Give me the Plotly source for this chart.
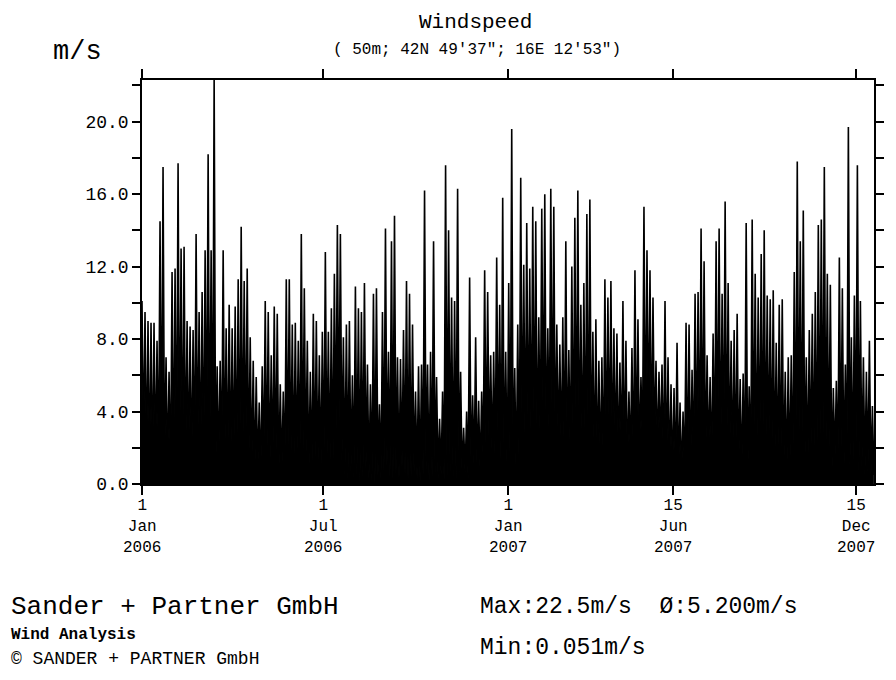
import plotly.graph_objects as go
import pandas as pd

# ---- data (3-day samples: peak and trough) ----
start_date = "2006-01-01"
sample_step_days = 3

peaks_p1 = [10.1, 9.5, 9.0, 8.9, 8.9, 7.9, 14.5, 17.5, 7.0, 6.2,
            11.7, 11.9, 17.7, 13.0, 13.1, 9.0, 8.7, 8.5, 13.8, 9.5,
            10.6, 12.9, 18.2, 12.9, 22.5, 6.5, 6.8, 12.9, 8.6, 9.9,
            8.6, 9.8, 11.3, 14.2, 11.2, 11.9, 8.1, 6.8, 5.9, 4.5,
            6.5, 10.1, 9.5, 7.1, 9.8, 9.4, 5.5, 5.1, 11.3]
peaks_p2 = [11.3, 8.8, 8.9, 7.9, 13.8, 10.8, 7.9, 6.2, 9.4, 9.0,
            7.1, 8.4, 12.8, 8.4, 9.7, 11.6, 14.3, 13.8, 8.1, 8.8,
            9.0, 6.0, 10.9, 9.7, 9.5, 11.1, 6.6, 5.5, 10.5, 10.8,
            4.4, 9.5, 14.1, 7.3, 13.4, 14.8, 7.0, 6.9, 8.5, 11.2,
            10.5, 8.8, 5.1, 6.5, 6.6, 16.2, 6.6, 7.3, 13.4]
peaks_p3 = [5.9, 3.6, 5.1, 17.6, 14.0, 10.3, 10.1, 16.3, 6.2, 3.1,
            4.0, 11.4, 4.9, 8.1, 4.6, 5.1, 11.8, 10.6, 7.1, 7.3,
            12.5, 9.9, 15.8, 7.3, 11.1, 19.6, 6.4, 8.8, 16.9, 12.1,
            14.4, 11.9, 15.3, 14.5, 9.2, 15.2, 16.0, 8.6, 16.3, 15.3,
            8.8, 7.7, 9.2, 13.4, 7.4, 12.0, 14.7, 16.2, 9.9]
peaks_p4 = [11.1, 14.9, 15.7, 8.4, 9.1, 6.8, 7.0, 11.3, 10.3, 11.2,
            8.6, 8.3, 6.7, 10.1, 7.9, 5.1, 7.5, 11.8, 9.1, 5.9,
            15.3, 12.9, 11.8, 10.3, 6.8, 6.2, 6.6, 10.1, 7.0, 5.5,
            5.3, 7.8, 4.5, 4.0, 8.9, 8.8, 6.3, 10.5, 10.6, 14.1,
            12.3, 7.1, 5.9, 8.3, 13.4, 14.1, 10.5, 15.6, 11.1]
peaks_p5 = [7.9, 8.5, 9.4, 5.8, 6.1, 14.4, 5.4, 14.6, 11.6, 10.3,
            12.7, 14.0, 10.4, 10.2, 10.7, 7.8, 9.9, 10.2, 6.2, 7.0,
            7.1, 11.7, 17.8, 13.4, 15.1, 7.0, 8.5, 9.4, 10.6, 14.3,
            14.6, 17.5, 11.6, 11.0, 5.3, 5.7, 12.5, 10.8, 6.6, 19.7,
            8.1, 10.4, 17.6, 10.1, 7.0, 6.2, 7.9, 4.3]

troughs_p1 = [1.9, 0.8, 0.4, 0.3, 1.0, 0.5, 0.3, 0.6, 0.8, 0.2,
              0.0, 0.0, 0.1, 0.0, 0.4, 0.7, 0.3, 0.6, 0.9, 0.5,
              0.3, 0.8, 0.4, 0.2, 0.1, 0.9, 0.8, 0.6, 0.3, 0.4,
              0.6, 0.3, 0.2, 0.5, 0.8, 0.3, 0.5, 0.2, 0.6, 0.3,
              0.9, 0.4, 0.2, 0.6, 0.3, 0.2, 0.5, 0.3, 0.4]
troughs_p2 = [0.6, 0.3, 0.9, 0.2, 0.5, 0.8, 0.3, 0.1, 0.4, 0.6,
              0.2, 0.5, 0.9, 0.3, 0.2, 1.8, 2.4, 1.2, 0.4, 0.2,
              0.6, 0.3, 0.5, 0.1, 0.4, 0.8, 0.3, 0.2, 0.0, 0.5,
              0.3, 0.7, 1.0, 0.4, 0.2, 0.6, 0.3, 0.9, 0.5, 0.2,
              0.4, 0.7, 0.3, 0.1, 0.5, 0.8, 0.2, 0.4, 0.6]
troughs_p3 = [0.3, 0.5, 0.2, 0.4, 0.6, 0.3, 0.2, 0.5, 0.3, 0.6,
              0.2, 0.4, 0.7, 0.3, 0.5, 1.3, 1.0, 1.5, 1.2, 0.8,
              1.4, 0.0, 0.0, 0.2, 0.1, 0.3, 0.1, 0.2, 1.3, 0.9,
              1.5, 1.1, 1.4, 0.8, 1.6, 2.0, 1.2, 1.8, 1.5, 1.0,
              1.7, 1.3, 0.8, 0.6, 1.0, 0.7, 0.9, 0.5, 0.8]
troughs_p4 = [0.4, 0.2, 0.3, 0.5, 0.2, 0.6, 0.3, 0.9, 1.3, 0.7,
              1.1, 0.6, 1.4, 0.8, 0.5, 1.2, 0.4, 0.9, 1.3, 1.8,
              1.5, 2.4, 1.6, 2.1, 1.4, 1.8, 0.3, 0.1, 0.4, 0.2,
              0.0, 0.3, 0.2, 0.5, 0.1, 0.3, 0.8, 1.2, 0.6, 1.0,
              0.7, 1.3, 0.5, 0.9, 1.1, 0.6, 0.8, 0.4, 1.0]
troughs_p5 = [0.5, 0.3, 0.6, 0.2, 0.0, 0.1, 0.4, 0.8, 0.5, 0.9,
              0.3, 0.7, 1.0, 0.4, 0.6, 0.3, 0.2, 0.5, 0.1, 0.3,
              0.2, 0.6, 0.8, 0.4, 0.7, 0.5, 0.9, 0.6, 0.4, 0.8,
              0.5, 1.0, 0.7, 0.4, 1.1, 0.6, 0.9, 0.5, 0.7, 0.8,
              0.4, 0.7, 0.6, 0.9, 0.5, 0.6, 0.4, 0.5]

x_tick_dates = ["2006-01-01", "2006-07-01", "2007-01-01", "2007-06-15", "2007-12-15"]
x_tick_labels = ["1<br>Jan<br>2006", "1<br>Jul<br>2006", "1<br>Jan<br>2007",
                 "15<br>Jun<br>2007", "15<br>Dec<br>2007"]
y_tick_values = [0, 2, 4, 6, 8, 10, 12, 14, 16, 18, 20, 22]
y_tick_labels = ["0.0", "", "4.0", "", "8.0", "", "12.0", "", "16.0", "", "20.0", ""]

title_text = "Windspeed"
subtitle_text = "( 50m; 42N 49'37\"; 16E 12'53\")"
unit_text = "m/s"
company_text = "Sander + Partner GmbH"
analysis_text = "Wind Analysis"
copyright_text = "© SANDER + PARTNER GmbH"
stats_line1 = "Max:22.5m/s  Ø:5.200m/s"
stats_line2 = "Min:0.051m/s"

# ---- build series ----
peaks = peaks_p1 + peaks_p2 + peaks_p3 + peaks_p4 + peaks_p5
troughs = troughs_p1 + troughs_p2 + troughs_p3 + troughs_p4 + troughs_p5
t0 = pd.Timestamp(start_date)
xs, ys = [], []
for i, (h, l) in enumerate(zip(peaks, troughs)):
    xs.append(t0 + pd.Timedelta(days=sample_step_days * i))
    ys.append(h)
    xs.append(t0 + pd.Timedelta(days=sample_step_days * i + sample_step_days / 2))
    ys.append(l)

FONT = "Liberation Mono, Courier New, monospace"

fig = go.Figure()
fig.add_trace(go.Scatter(x=xs, y=ys, mode="lines",
                         line=dict(color="black", width=1.6),
                         fill="tozeroy", fillcolor="black",
                         hoverinfo="skip"))

# page body adds an 8px offset: figure 888x672 -> plot area at 142..879 x 80..484 on the page
fig.update_layout(
    width=888, height=672,
    margin=dict(l=134, r=17, t=72, b=196),
    paper_bgcolor="white", plot_bgcolor="white",
    showlegend=False,
    font=dict(family=FONT, color="black"),
)
fig.update_xaxes(
    type="date",
    range=["2006-01-01", "2008-01-01 14:00"],
    showline=True, linecolor="black", linewidth=1.5,
    mirror="ticks", ticks="outside", ticklen=9, tickwidth=1.5, tickcolor="black",
    tickvals=x_tick_dates, showticklabels=False,
    showgrid=False, zeroline=False,
)
fig.update_yaxes(
    range=[0, 22.3],
    showline=True, linecolor="black", linewidth=1.5,
    mirror="ticks", ticks="outside", ticklen=8, tickwidth=1.5, tickcolor="black",
    tickvals=y_tick_values, ticktext=y_tick_labels,
    tickfont=dict(family=FONT, size=18, color="black"),
    showgrid=False, zeroline=False,
)

def ann(text, x, y, size, xanchor="left", yanchor="middle", bold=False, xref="paper"):
    fig.add_annotation(text=("<b>%s</b>" % text) if bold else text,
                       x=x, y=y, xref=xref, yref="paper",
                       xanchor=xanchor, yanchor=yanchor, showarrow=False,
                       font=dict(family=FONT, size=size, color="black"))

# three-line date labels, placed at the tick dates on the x axis
for d, lab in zip(x_tick_dates, x_tick_labels):
    ann(lab, d, -0.028, 16, xanchor="center", yanchor="top", xref="x")

ann(title_text, 0.456, 1.176, 21, xanchor="center", yanchor="top")
ann(subtitle_text, 0.457, 1.074, 16, xanchor="center")
ann(unit_text, -0.124, 1.069, 27)
ann(company_text, -0.182, -0.3045, 26)
ann(analysis_text, -0.182, -0.374, 16, bold=True)
ann(copyright_text, -0.182, -0.433, 18)
ann(stats_line1, 0.4586, -0.3045, 23)
ann(stats_line2, 0.4586, -0.406, 23)

fig.write_html("out.html")
